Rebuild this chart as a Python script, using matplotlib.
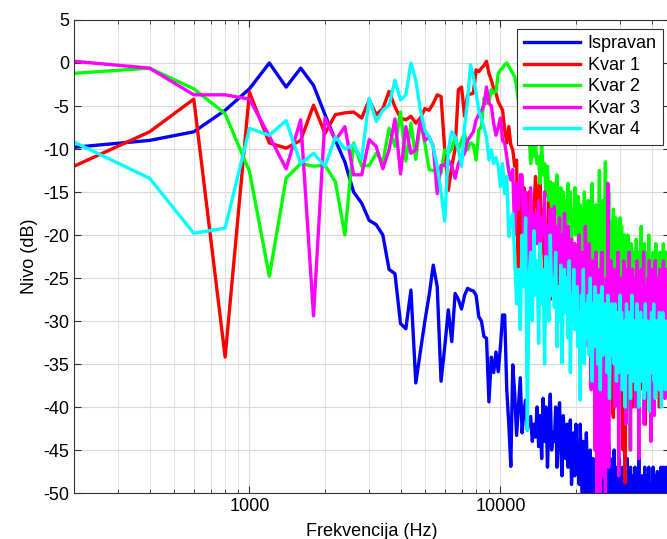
import numpy as np
import matplotlib
matplotlib.use('Agg')
import matplotlib.pyplot as plt

plt.rcParams['font.family'] = ['Liberation Sans', 'DejaVu Sans']
plt.rcParams['axes.unicode_minus'] = False

# frequency grid (200 Hz bins)
freq = np.arange(200, 46001, 200)

ispravan = [
    -9.8, -9.0, -8.0, -5.5, -3.0, 0.0, -2.8, -0.6, -2.6, -6.0,
    -9.0, -11.5, -15.0, -16.3, -18.3, -18.8, -20.0, -24.0, -24.5, -30.3,
    -30.9, -26.4, -37.2, -33.5, -30.0, -27.0, -23.5, -26.0, -37.0, -33.0,
    -28.7, -32.4, -26.8, -27.5, -28.6, -27.0, -26.2, -26.4, -26.5, -27.0,
    -29.5, -30.0, -31.8, -32.0, -39.4, -34.2, -36.0, -33.6, -35.9, -33.0,
    -29.3, -29.3, -38.0, -42.0, -46.9, -35.1, -38.5, -43.3, -40.0, -36.6,
    -43.0, -40.5, -39.2, -42.7, -41.5, -41.1, -44.0, -42.0, -43.5, -40.0,
    -44.6, -41.0, -46.0, -39.0, -44.0, -40.0, -47.0, -42.0, -38.5, -45.0,
    -43.0, -44.0, -40.0, -47.0, -42.0, -39.5, -45.0, -48.0, -41.0, -44.0,
    -46.0, -42.0, -47.0, -44.0, -41.5, -49.0, -45.0, -43.0, -48.0, -42.0,
    -46.0, -45.0, -49.0, -42.0, -47.0, -50.0, -44.0, -46.0, -51.0, -43.0,
    -48.0, -47.0, -52.0, -45.0, -49.0, -53.0, -46.0, -50.0, -48.0, -54.0,
    -46.0, -49.0, -53.0, -46.0, -51.0, -55.0, -47.0, -50.0, -52.0, -48.0,
    -54.0, -50.0, -47.0, -54.0, -44.2, -52.0, -46.0, -55.0, -51.0, -48.0,
    -53.0, -45.0, -52.0, -48.0, -55.0, -47.0, -50.0, -53.0, -46.0, -51.0,
    -56.0, -49.0, -54.0, -47.0, -52.0, -50.0, -56.0, -48.0, -53.0, -46.0,
    -51.0, -55.0, -49.0, -52.0, -47.0, -54.0, -50.0, -57.0, -48.0, -53.0,
    -51.0, -47.0, -53.0, -50.0, -56.0, -48.0, -52.0, -46.0, -55.0, -51.0,
    -49.0, -54.0, -48.0, -52.0, -57.0, -49.0, -51.0, -47.0, -55.0, -50.0,
    -53.0, -48.0, -52.0, -55.0, -47.0, -53.0, -50.0, -56.0, -49.0, -51.0,
    -54.0, -50.0, -47.0, -53.0, -49.0, -55.0, -48.0, -52.0, -51.0, -57.0,
    -47.5, -52.0, -49.0, -54.0, -48.0, -51.0, -56.0, -47.0, -53.0, -50.0,
    -55.0, -49.0, -47.0, -53.0, -50.0, -48.0, -54.0, -51.0, -47.0, -52.0,
]

kvar1 = [
    -12.0, -8.0, -4.2, -34.2, -3.4, -9.3, -9.9, -9.0, -4.9, -8.2,
    -6.0, -5.8, -5.7, -6.4, -4.3, -6.0, -5.3, -3.3, -5.1, -6.4,
    -6.6, -6.2, -7.0, -6.4, -5.3, -5.5, -4.7, -3.7, -3.9, -10.1,
    -14.8, -12.0, -10.0, -3.1, -2.8, -6.2, -3.7, -3.6, -3.5, -0.8,
    -1.0, -0.6, -0.3, 0.2, -1.2, -2.0, -3.0, -3.5, -4.5, -5.0,
    -5.5, -7.8, -9.3, -7.4, -9.5, -10.1, -12.0, -11.3, -28.0, -14.4,
    -20.0, -14.5, -18.6, -23.0, -15.0, -19.5, -26.0, -17.0, -13.2, -15.9,
    -19.8, -14.0, -22.0, -17.0, -25.0, -18.5, -21.0, -16.0, -27.5, -20.0,
    -23.0, -17.5, -26.4, -21.0, -28.3, -19.0, -24.0, -22.0, -18.0, -23.5,
    -25.0, -20.0, -27.0, -22.5, -30.0, -21.0, -26.0, -24.0, -28.0, -23.0,
    -26.0, -31.8, -24.0, -35.0, -27.0, -26.7, -29.0, -33.4, -25.0, -28.0,
    -30.0, -26.0, -33.0, -28.0, -24.5, -31.0, -27.0, -35.0, -29.0, -26.0,
    -28.0, -32.0, -25.0, -30.0, -36.0, -27.0, -31.0, -29.0, -34.0, -26.5,
    -30.0, -27.0, -33.0, -39.0, -29.0, -32.0, -28.0, -35.0, -31.0, -40.3,
    -41.2, -30.0, -34.0, -28.0, -36.0, -31.0, -38.0, -29.0, -33.0, -35.0,
    -32.0, -37.0, -30.0, -45.0, -34.0, -31.0, -48.8, -36.0, -29.0, -33.0,
    -35.0, -30.0, -38.0, -32.0, -36.0, -28.0, -34.0, -40.0, -31.0, -37.0,
    -33.0, -29.0, -36.0, -31.0, -39.0, -34.0, -30.0, -37.0, -32.0, -35.0,
    -30.0, -36.0, -33.0, -28.0, -38.0, -31.0, -35.0, -29.0, -42.0, -32.0,
    -34.0, -29.0, -37.0, -31.0, -33.0, -27.0, -36.0, -30.0, -39.0, -32.0,
    -31.0, -35.0, -28.0, -38.0, -30.0, -34.0, -29.0, -37.0, -33.0, -30.0,
    -36.0, -31.0, -34.0, -29.0, -40.0, -32.0, -28.0, -35.0, -31.0, -38.0,
    -32.0, -29.0, -35.0, -30.0, -37.0, -33.0, -28.0, -36.0, -31.0, -34.0,
]

kvar2 = [
    -1.2, -0.6, -3.0, -5.9, -12.6, -24.8, -13.4, -11.7, -12.0, -11.9,
    -13.8, -20.0, -9.3, -12.0, -11.9, -10.5, -11.5, -7.6, -9.7, -5.7,
    -11.4, -7.0, -11.2, -6.8, -9.3, -12.4, -12.5, -12.6, -12.8, -10.1,
    -10.5, -10.0, -8.6, -10.1, -9.0, -8.2, -10.1, -9.3, -9.5, -11.3,
    -7.8, -7.4, -4.1, -4.7, -4.5, -3.1, -3.5, -3.3, -1.2, -0.8,
    -0.6, -0.2, 0.0, -0.4, -0.8, -1.2, -1.6, -2.8, -4.5, -6.0,
    -5.0, -7.5, -6.0, -9.3, -8.0, -11.7, -9.3, -10.9, -9.5, -11.7,
    -10.9, -14.0, -9.3, -13.0, -11.7, -15.5, -12.0, -16.0, -13.8, -17.0,
    -14.0, -18.0, -15.9, -13.0, -19.0, -16.0, -14.5, -20.0, -15.0, -17.5,
    -16.0, -21.0, -14.0, -18.0, -15.0, -22.0, -17.0, -19.0, -14.5, -20.0,
    -18.0, -15.5, -21.0, -16.5, -23.0, -17.0, -20.0, -15.0, -22.0, -18.5,
    -19.0, -16.0, -24.0, -17.5, -21.0, -14.0, -23.0, -18.0, -20.0, -16.5,
    -22.0, -17.0, -19.5, -12.5, -24.0, -18.0, -21.0, -16.0, -25.0, -19.0,
    -11.5, -20.0, -17.0, -23.0, -15.0, -22.0, -18.5, -26.0, -19.0, -21.0,
    -17.0, -24.0, -20.0, -18.0, -27.0, -21.0, -19.0, -25.0, -22.0, -18.0,
    -23.0, -19.0, -26.0, -21.0, -29.0, -20.0, -24.0, -22.0, -28.0, -25.0,
    -20.0, -27.0, -23.0, -45.0, -25.0, -21.0, -30.0, -24.0, -26.0, -22.0,
    -28.0, -23.0, -25.0, -20.5, -31.0, -24.0, -27.0, -22.0, -29.0, -26.0,
    -24.0, -19.0, -27.0, -23.0, -30.0, -25.0, -21.0, -28.0, -26.0, -23.0,
    -27.0, -22.0, -29.0, -25.0, -20.0, -31.0, -26.0, -23.0, -28.0, -24.0,
    -25.0, -30.0, -22.0, -27.0, -24.0, -32.0, -26.0, -21.0, -29.0, -25.0,
    -28.0, -23.0, -26.0, -31.0, -24.0, -22.0, -30.0, -27.0, -25.0, -29.0,
    -24.0, -27.0, -21.0, -29.0, -26.0, -23.0, -31.0, -25.0, -28.0, -22.0,
]

kvar3 = [
    0.2, -0.6, -3.7, -3.7, -4.2, -8.5, -12.3, -6.6, -29.4, -6.4,
    -9.0, -7.4, -13.0, -13.0, -8.9, -9.7, -12.3, -10.1, -6.5, -12.9,
    -7.4, -10.5, -10.1, -6.6, -9.0, -8.6, -9.7, -15.2, -11.9, -11.9,
    -11.3, -12.0, -13.4, -11.7, -11.0, -10.5, -9.0, -8.5, -8.0, -6.6,
    -6.0, -5.5, -4.9, -2.8, -4.7, -5.0, -7.0, -8.4, -7.5, -6.4,
    -9.0, -9.3, -10.9, -12.6, -13.6, -12.4, -20.0, -14.0, -17.0, -13.0,
    -13.0, -22.0, -15.0, -18.5, -27.0, -14.5, -19.0, -23.3, -17.4, -21.0,
    -16.0, -24.0, -18.0, -20.0, -15.0, -26.0, -19.0, -22.0, -17.0, -25.0,
    -21.0, -16.7, -26.0, -19.0, -23.0, -18.0, -28.0, -20.0, -24.0, -17.5,
    -22.0, -27.0, -19.0, -25.0, -32.0, -20.5, -24.0, -30.0, -21.0, -26.0,
    -23.0, -29.0, -20.0, -35.0, -25.0, -22.0, -31.0, -27.0, -19.0, -28.0,
    -24.0, -33.0, -21.0, -28.0, -38.0, -23.0, -30.0, -26.0, -45.0, -22.0,
    -50.0, -27.0, -35.0, -24.0, -52.0, -29.0, -22.0, -48.0, -31.0, -26.0,
    -51.0, -25.0, -33.0, -14.0, -47.0, -28.0, -36.0, -23.0, -30.0, -26.0,
    -32.0, -24.0, -40.0, -27.0, -29.0, -35.0, -22.0, -48.0, -30.0, -26.0,
    -34.0, -25.0, -30.0, -38.0, -23.0, -31.0, -27.0, -42.0, -29.0, -24.0,
    -28.0, -36.0, -22.0, -33.0, -45.0, -26.0, -31.0, -24.0, -37.0, -29.0,
    -25.0, -32.0, -40.0, -27.0, -23.0, -35.0, -30.0, -46.0, -26.0, -33.0,
    -31.0, -24.0, -37.0, -28.0, -34.0, -22.0, -42.0, -29.0, -26.0, -35.0,
    -27.0, -33.0, -25.0, -39.0, -30.0, -23.0, -36.0, -28.0, -44.0, -31.0,
    -24.0, -30.0, -35.0, -26.0, -41.0, -29.0, -23.0, -34.0, -28.0, -37.0,
    -32.0, -25.0, -38.0, -27.0, -30.0, -24.0, -36.0, -29.0, -33.0, -26.0,
    -28.0, -35.0, -23.0, -31.0, -27.0, -39.0, -25.0, -30.0, -34.0, -24.0,
]

kvar4 = [
    -9.2, -13.4, -19.8, -19.2, -7.6, -8.4, -6.7, -11.7, -10.5, -12.0,
    -8.6, -10.0, -9.5, -11.2, -4.1, -6.8, -5.5, -4.9, -2.0, -4.3,
    -3.7, 0.0, -2.0, -5.5, -7.8, -8.6, -9.8, -12.0, -15.0, -18.4,
    -10.1, -8.0, -8.6, -10.1, -12.0, -7.4, -4.3, -0.2, -1.6, -3.5,
    -5.5, -6.6, -7.5, -8.6, -11.3, -10.1, -11.7, -11.0, -12.0, -14.4,
    -11.7, -15.2, -13.2, -20.2, -18.3, -17.5, -22.9, -28.0, -24.0, -31.0,
    -20.0, -26.0, -18.0, -42.7, -25.0, -22.0, -30.0, -19.5, -27.0, -23.0,
    -32.6, -21.0, -28.0, -24.0, -35.0, -22.5, -26.0, -30.0, -20.0, -27.0,
    -25.0, -28.4, -22.0, -33.0, -26.0, -30.0, -23.5, -34.9, -27.0, -24.0,
    -29.0, -25.0, -32.0, -23.0, -36.0, -27.0, -30.0, -24.0, -31.0, -28.0,
    -26.0, -33.0, -29.0, -39.2, -27.0, -31.0, -24.0, -35.0, -28.0, -30.0,
    -32.0, -27.0, -34.0, -25.0, -30.0, -37.0, -28.0, -33.0, -26.0, -31.0,
    -29.0, -35.0, -27.0, -32.0, -38.0, -30.0, -26.0, -34.0, -31.0, -28.0,
    -33.0, -29.0, -36.0, -27.0, -31.0, -39.0, -30.0, -34.0, -28.0, -32.0,
    -30.0, -35.0, -28.0, -33.0, -37.0, -31.0, -29.0, -36.0, -32.0, -27.0,
    -34.0, -29.0, -38.0, -31.0, -35.0, -30.0, -40.0, -33.0, -28.0, -36.0,
    -31.0, -36.0, -29.0, -34.0, -39.0, -32.0, -27.0, -37.0, -33.0, -30.0,
    -35.0, -30.0, -38.0, -32.0, -28.0, -36.0, -34.0, -40.0, -31.0, -33.0,
    -29.0, -34.0, -37.0, -31.0, -35.0, -30.0, -39.0, -33.0, -28.0, -36.0,
    -32.0, -38.0, -30.0, -35.0, -33.0, -40.5, -31.0, -36.0, -34.0, -29.0,
    -36.0, -31.0, -34.0, -28.0, -37.0, -32.0, -39.0, -30.0, -35.0, -33.0,
    -30.0, -35.0, -32.0, -38.0, -29.0, -34.0, -36.0, -31.0, -40.0, -33.0,
    -34.0, -29.0, -37.0, -32.0, -35.0, -31.0, -38.0, -30.0, -36.0, -33.0,
]

labels = ['Ispravan', 'Kvar 1', 'Kvar 2', 'Kvar 3', 'Kvar 4']
colors = ['#0000ff', '#ff0000', '#00ff00', '#ff00ff', '#00ffff']
series = [ispravan, kvar1, kvar2, kvar3, kvar4]

fig = plt.figure(figsize=(6.67, 5.39), dpi=100)
ax = fig.add_axes([0.111, 0.0853, 0.893, 0.8776])

for y, c, lab in zip(series, colors, labels):
    ax.semilogx(freq, y, color=c, lw=2.4, label=lab)

ax.set_xlim(200, 47250)
ax.set_ylim(-50, 5)
ax.set_yticks(np.arange(-50, 6, 5))
ax.set_xticks([1000, 10000])
ax.set_xticklabels(['1000', '10000'])

ax.grid(True, which='major', color='#d9d9d9', lw=0.8)
ax.grid(True, which='minor', axis='x', color='#e2e2e2', lw=0.7)
ax.tick_params(which='both', direction='in', top=True, right=True,
               labelsize=13, color='#333333')
ax.tick_params(which='major', length=5)
ax.tick_params(which='minor', length=3)
for s in ax.spines.values():
    s.set_color('#333333')

ax.set_xlabel('Frekvencija (Hz)', fontsize=13, labelpad=6)
ax.set_ylabel('Nivo (dB)', fontsize=13, labelpad=4)

leg = ax.legend(loc='upper right', bbox_to_anchor=(663 / 667, 1 - 29 / 539),
                bbox_transform=fig.transFigure, fontsize=13, fancybox=False,
                framealpha=1, edgecolor='#333333', handlelength=3.1,
                handletextpad=0.45, labelspacing=0.25, borderpad=0.35,
                borderaxespad=0)
leg.get_frame().set_linewidth(0.8)

fig.savefig('out.png', dpi=100)
